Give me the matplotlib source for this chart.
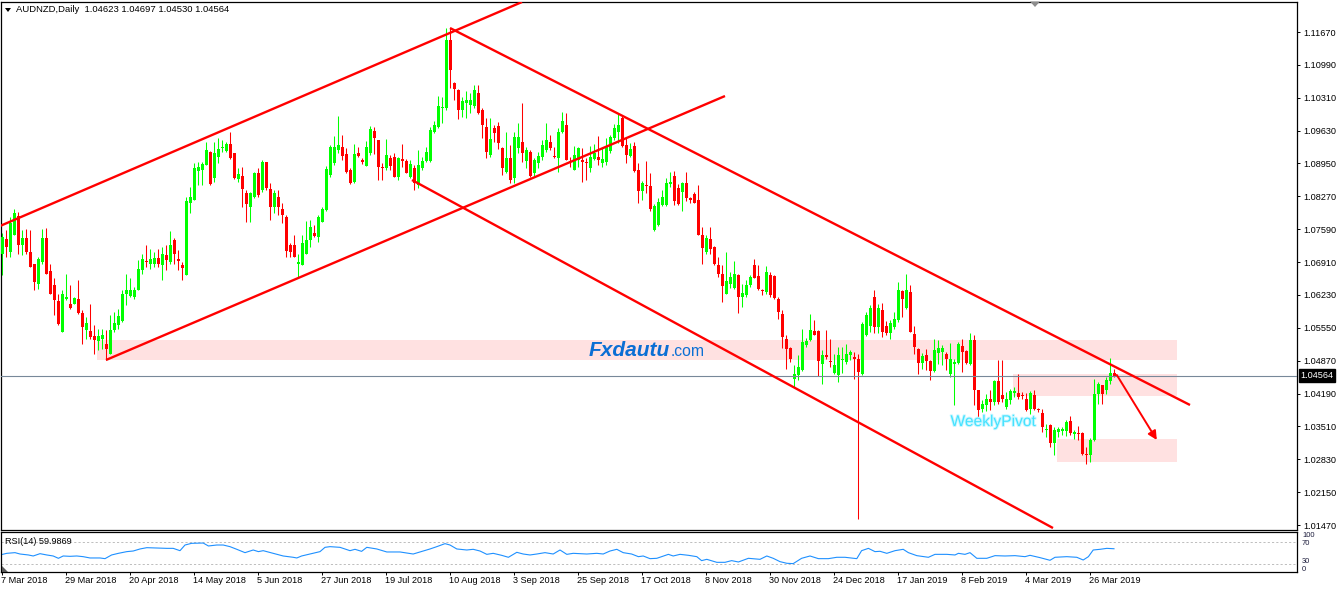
import matplotlib
matplotlib.use("Agg")
import matplotlib.pyplot as plt
import matplotlib.transforms as mtransforms
import matplotlib.patheffects as pe
from matplotlib.patches import Rectangle, Polygon
import numpy as np

plt.rcParams['font.family'] = ['Liberation Sans', 'DejaVu Sans']

symbol = "AUDNZD,Daily"

opens = [
    1.07088, 1.07378, 1.07109, 1.07467, 1.07861, 1.07260, 1.07412, 1.07109, 1.06881, 1.06467,
    1.06916, 1.07412, 1.06729, 1.06432, 1.06101, 1.05467, 1.06143, 1.06053, 1.06053, 1.06143,
    1.05860, 1.05501, 1.05481, 1.05377, 1.05280, 1.05329, 1.05225, 1.05018, 1.05515, 1.05605,
    1.05694, 1.06260, 1.06205, 1.06191, 1.06329, 1.06743, 1.06929, 1.06881, 1.06881, 1.06985,
    1.06847, 1.07054, 1.06916, 1.07364, 1.06971, 1.06847, 1.06640, 1.08123, 1.08192, 1.08799,
    1.08812, 1.08917, 1.09193, 1.08641, 1.09089, 1.09262, 1.09213, 1.09351, 1.09158, 1.08627,
    1.08689, 1.08344, 1.08054, 1.08261, 1.08744, 1.08399, 1.08986, 1.08420, 1.08054, 1.08247,
    1.07999, 1.07847, 1.07260, 1.07260, 1.06881, 1.06847, 1.07088, 1.07364, 1.07502, 1.07433,
    1.07744, 1.07985, 1.08710, 1.08951, 1.09227, 1.09296, 1.09137, 1.08812, 1.08572, 1.09158,
    1.09020, 1.08903, 1.09158, 1.09621, 1.09434, 1.08882, 1.08847, 1.09055, 1.09089, 1.08675,
    1.09034, 1.08999, 1.08675, 1.08847, 1.08503, 1.08847, 1.08999, 1.08999, 1.09607, 1.09696,
    1.10090, 1.10090, 1.11504, 1.10621, 1.10469, 1.10055, 1.10193, 1.10159, 1.10138, 1.10414,
    1.10055, 1.09710, 1.09124, 1.09676, 1.09724, 1.09275, 1.08779, 1.09055, 1.08641, 1.09262,
    1.09400, 1.08999, 1.09193, 1.08744, 1.08951, 1.09089, 1.09227, 1.09400, 1.09103, 1.09055,
    1.09607, 1.09745, 1.08999, 1.08812, 1.09020, 1.09020, 1.08986, 1.08861, 1.09034, 1.09089,
    1.08965, 1.08986, 1.09213, 1.09469, 1.09607, 1.09882, 1.09331, 1.09110, 1.09317, 1.08812,
    1.08385, 1.08503, 1.08482, 1.07571, 1.07675, 1.08089, 1.08089, 1.08516, 1.08695, 1.08433,
    1.08365, 1.08537, 1.08240, 1.08309, 1.08192, 1.07481, 1.07122, 1.07378, 1.07226, 1.06847,
    1.06674, 1.06260, 1.06453, 1.06384, 1.06640, 1.06191, 1.06226, 1.06432, 1.06860, 1.06619,
    1.06329, 1.06295, 1.06640, 1.06619, 1.06157, 1.05846, 1.05315, 1.05135, 1.04500, 1.04569,
    1.04673, 1.05190, 1.05294, 1.05481, 1.05481, 1.04812, 1.04997, 1.04859, 1.04618, 1.04569,
    1.04880, 1.04847, 1.04984, 1.04949, 1.04915, 1.04590, 1.05398, 1.05584, 1.06191, 1.05570,
    1.05929, 1.05584, 1.05436, 1.05570, 1.05708, 1.06315, 1.05970, 1.06295, 1.05418, 1.05122,
    1.04825, 1.04984, 1.04866, 1.04659, 1.05039, 1.05053, 1.05018, 1.04590, 1.04812, 1.04825,
    1.05170, 1.05067, 1.04812, 1.05294, 1.04259, 1.03866, 1.03962, 1.04073, 1.04017, 1.04445,
    1.04157, 1.03912, 1.04066, 1.04211, 1.04204, 1.04169, 1.04087, 1.03866, 1.04157, 1.03880,
    1.03797, 1.03445, 1.03535, 1.03162, 1.03399, 1.03422, 1.03410, 1.03617, 1.03348, 1.03383,
    1.03376, 1.02934, 1.02914, 1.03224, 1.04190, 1.04363, 1.04259, 1.04445, 1.04623,
]

highs = [
    1.07502, 1.07571, 1.07847, 1.08006, 1.07951, 1.07571, 1.07585, 1.07571, 1.06881, 1.07019,
    1.07585, 1.07606, 1.06881, 1.06571, 1.06260, 1.06329, 1.06674, 1.06432, 1.06191, 1.06550,
    1.05915, 1.05777, 1.06053, 1.05605, 1.05536, 1.05536, 1.05501, 1.05812, 1.05881, 1.05950,
    1.06329, 1.06674, 1.06571, 1.06392, 1.06950, 1.07088, 1.07260, 1.07191, 1.07122, 1.07191,
    1.07226, 1.07260, 1.07550, 1.07399, 1.07157, 1.06916, 1.08261, 1.08468, 1.08951, 1.08986,
    1.08986, 1.09400, 1.09207, 1.09400, 1.09469, 1.09434, 1.09400, 1.09607, 1.09158, 1.08847,
    1.08882, 1.08399, 1.08365, 1.08779, 1.08847, 1.09020, 1.08986, 1.08537, 1.08399, 1.08399,
    1.08137, 1.07881, 1.07295, 1.07467, 1.07088, 1.07467, 1.07764, 1.07778, 1.07675, 1.07881,
    1.08054, 1.08896, 1.09331, 1.09517, 1.09931, 1.09538, 1.09262, 1.08847, 1.09344, 1.09296,
    1.09055, 1.09420, 1.09724, 1.09710, 1.09434, 1.08951, 1.09448, 1.09124, 1.09158, 1.09089,
    1.09344, 1.09034, 1.09020, 1.08917, 1.09227, 1.09089, 1.09296, 1.09710, 1.09827, 1.10345,
    1.10331, 1.11746, 1.11746, 1.10642, 1.10483, 1.10331, 1.10455, 1.10400, 1.10573, 1.10573,
    1.10090, 1.09882, 1.09882, 1.09745, 1.09813, 1.09296, 1.09607, 1.09331, 1.09607, 1.09779,
    1.10193, 1.09296, 1.09227, 1.09055, 1.09193, 1.09434, 1.09793, 1.09538, 1.09296, 1.09676,
    1.10021, 1.09986, 1.09089, 1.09310, 1.09296, 1.09262, 1.09055, 1.09310, 1.09351, 1.09517,
    1.09262, 1.09469, 1.09538, 1.09765, 1.09986, 1.09952, 1.09503, 1.09379, 1.09400, 1.08951,
    1.08585, 1.08999, 1.08744, 1.08103, 1.08227, 1.08399, 1.08641, 1.08779, 1.08799, 1.08516,
    1.08572, 1.08765, 1.08261, 1.08351, 1.08503, 1.07640, 1.07467, 1.07640, 1.07247, 1.07019,
    1.06847, 1.07109, 1.06709, 1.06929, 1.06674, 1.06467, 1.06550, 1.06640, 1.06964, 1.06847,
    1.06364, 1.06826, 1.06709, 1.06640, 1.06191, 1.05915, 1.05411, 1.05156, 1.04777, 1.04984,
    1.05536, 1.05342, 1.05846, 1.05708, 1.05501, 1.05087, 1.05501, 1.05329, 1.05018, 1.05156,
    1.05156, 1.05225, 1.05087, 1.05053, 1.05018, 1.05674, 1.05881, 1.06019, 1.06343, 1.06053,
    1.06067, 1.05687, 1.05708, 1.05881, 1.06501, 1.06343, 1.06674, 1.06432, 1.05584, 1.05135,
    1.05032, 1.05122, 1.04880, 1.05329, 1.05294, 1.05190, 1.05053, 1.05239, 1.04915, 1.05257,
    1.05329, 1.05087, 1.05436, 1.05398, 1.04273, 1.04057, 1.04190, 1.04259, 1.04480, 1.04880,
    1.04880, 1.04225, 1.04294, 1.04328, 1.04590, 1.04225, 1.04204, 1.04245, 1.04259, 1.03900,
    1.03880, 1.03555, 1.03555, 1.03502, 1.03502, 1.03502, 1.03652, 1.03721, 1.03445, 1.03514,
    1.03399, 1.03086, 1.03279, 1.04500, 1.04432, 1.04363, 1.04535, 1.04935, 1.04697,
]

lows = [
    1.06640, 1.07019, 1.07019, 1.07467, 1.07088, 1.07054, 1.07088, 1.06812, 1.06329, 1.06364,
    1.06881, 1.06674, 1.06260, 1.05812, 1.05605, 1.05467, 1.06122, 1.05950, 1.06039, 1.05846,
    1.05225, 1.05329, 1.05329, 1.05018, 1.05087, 1.05122, 1.04880, 1.05018, 1.05467, 1.05536,
    1.05674, 1.06019, 1.06191, 1.06157, 1.06329, 1.06674, 1.06812, 1.06777, 1.06812, 1.06812,
    1.06536, 1.06743, 1.06881, 1.06881, 1.06743, 1.06550, 1.06640, 1.07916, 1.08192, 1.08503,
    1.08503, 1.08917, 1.08496, 1.08572, 1.08951, 1.09193, 1.09193, 1.09034, 1.08627, 1.08572,
    1.08054, 1.07744, 1.07744, 1.08227, 1.08261, 1.08365, 1.08399, 1.07778, 1.07916, 1.07881,
    1.07723, 1.07019, 1.07019, 1.07019, 1.06605, 1.06847, 1.07088, 1.07226, 1.07433, 1.07330,
    1.07744, 1.07964, 1.08675, 1.08917, 1.09158, 1.09020, 1.08744, 1.08523, 1.08551, 1.09089,
    1.08937, 1.08903, 1.09124, 1.09144, 1.08606, 1.08606, 1.08812, 1.08812, 1.08675, 1.08606,
    1.08882, 1.08744, 1.08641, 1.08399, 1.08433, 1.08812, 1.08986, 1.08986, 1.09572, 1.09676,
    1.09779, 1.10055, 1.10504, 1.10262, 1.09862, 1.09917, 1.09882, 1.09986, 1.10090, 1.09972,
    1.09469, 1.09055, 1.09089, 1.09400, 1.09248, 1.08710, 1.08744, 1.08551, 1.08537, 1.09158,
    1.08986, 1.08847, 1.08675, 1.08675, 1.08847, 1.09020, 1.09193, 1.09227, 1.09055, 1.08779,
    1.09572, 1.09020, 1.08882, 1.08812, 1.08882, 1.08558, 1.08606, 1.08779, 1.09020, 1.08917,
    1.08882, 1.08917, 1.09158, 1.09434, 1.09365, 1.09296, 1.08951, 1.09089, 1.08779, 1.08137,
    1.08192, 1.08330, 1.07971, 1.07557, 1.07661, 1.08075, 1.08075, 1.08468, 1.08089, 1.08089,
    1.07964, 1.08171, 1.08123, 1.08123, 1.07467, 1.06881, 1.07088, 1.07088, 1.06847, 1.06605,
    1.06087, 1.06260, 1.06384, 1.06364, 1.05860, 1.05984, 1.06191, 1.06392, 1.06571, 1.06343,
    1.06226, 1.06260, 1.06191, 1.06157, 1.05743, 1.05142, 1.04708, 1.04847, 1.04328, 1.04466,
    1.04659, 1.05156, 1.05280, 1.05398, 1.04549, 1.04397, 1.04915, 1.04742, 1.04604, 1.04432,
    1.04618, 1.04812, 1.04880, 1.04500, 1.01603, 1.04569, 1.05377, 1.05467, 1.05436, 1.05436,
    1.05363, 1.05398, 1.05329, 1.05536, 1.05674, 1.05777, 1.05950, 1.05467, 1.05018, 1.04604,
    1.04708, 1.04687, 1.04480, 1.04639, 1.04812, 1.04777, 1.04673, 1.04535, 1.03947, 1.04797,
    1.04639, 1.04812, 1.04777, 1.03947, 1.03707, 1.03811, 1.03831, 1.03845, 1.03947, 1.03983,
    1.04017, 1.03880, 1.03983, 1.04122, 1.04087, 1.04087, 1.03831, 1.03776, 1.03859, 1.03811,
    1.03399, 1.03293, 1.03086, 1.02914, 1.03293, 1.03327, 1.03307, 1.03327, 1.03259, 1.03224,
    1.02914, 1.02727, 1.02775, 1.03210, 1.03983, 1.03983, 1.04176, 1.04397, 1.04530,
]

closes = [
    1.07433, 1.07226, 1.07709, 1.07916, 1.07260, 1.07412, 1.07109, 1.06812, 1.06501, 1.06964,
    1.07412, 1.06674, 1.06260, 1.06122, 1.05639, 1.06246, 1.06191, 1.05970, 1.06170, 1.05860,
    1.05570, 1.05653, 1.05363, 1.05294, 1.05377, 1.05398, 1.05122, 1.05501, 1.05653, 1.05791,
    1.06260, 1.06329, 1.06343, 1.06343, 1.06777, 1.06964, 1.06902, 1.06964, 1.06985, 1.06881,
    1.07088, 1.06950, 1.07274, 1.07088, 1.06936, 1.06791, 1.08171, 1.08261, 1.08847, 1.08882,
    1.08930, 1.09227, 1.08516, 1.09158, 1.09248, 1.09296, 1.09351, 1.09055, 1.08654, 1.08723,
    1.08413, 1.08103, 1.08330, 1.08758, 1.08296, 1.08986, 1.08433, 1.08040, 1.08330, 1.08054,
    1.07881, 1.07144, 1.07122, 1.07019, 1.06916, 1.07295, 1.07364, 1.07640, 1.07447, 1.07833,
    1.08013, 1.08827, 1.09296, 1.09296, 1.09331, 1.09110, 1.08779, 1.08537, 1.09137, 1.09110,
    1.08986, 1.09296, 1.09655, 1.09469, 1.08882, 1.08847, 1.09124, 1.08903, 1.08675, 1.09055,
    1.09006, 1.08744, 1.08937, 1.08537, 1.08917, 1.09006, 1.09193, 1.09642, 1.09745, 1.10138,
    1.10124, 1.11504, 1.10883, 1.10483, 1.10055, 1.10241, 1.10262, 1.10262, 1.10469, 1.09986,
    1.09745, 1.09193, 1.09455, 1.09586, 1.09365, 1.08861, 1.09055, 1.08606, 1.09503, 1.09503,
    1.09158, 1.09227, 1.08695, 1.09020, 1.09103, 1.09331, 1.09434, 1.09262, 1.09075, 1.09600,
    1.09834, 1.09020, 1.08972, 1.09124, 1.09262, 1.08986, 1.08951, 1.09089, 1.09172, 1.09020,
    1.09034, 1.09310, 1.09503, 1.09676, 1.09745, 1.09317, 1.09124, 1.09241, 1.08799, 1.08385,
    1.08551, 1.08482, 1.08006, 1.08075, 1.08144, 1.08261, 1.08537, 1.08572, 1.08171, 1.08103,
    1.08537, 1.08240, 1.08192, 1.08137, 1.07481, 1.07205, 1.07399, 1.07191, 1.06867, 1.06674,
    1.06419, 1.06515, 1.06605, 1.06660, 1.06191, 1.06281, 1.06432, 1.06605, 1.06591, 1.06364,
    1.06308, 1.06709, 1.06226, 1.06170, 1.05881, 1.05363, 1.05122, 1.04915, 1.04590, 1.04742,
    1.05257, 1.05280, 1.05501, 1.05411, 1.04866, 1.04997, 1.04949, 1.04847, 1.04777, 1.04984,
    1.04894, 1.05018, 1.05053, 1.04915, 1.04639, 1.05625, 1.05825, 1.05970, 1.05570, 1.05963,
    1.05467, 1.05453, 1.05653, 1.05743, 1.06329, 1.06157, 1.06329, 1.05467, 1.05156, 1.04832,
    1.04963, 1.04866, 1.04659, 1.05101, 1.05142, 1.05135, 1.04901, 1.04915, 1.04847, 1.05211,
    1.05053, 1.04832, 1.05294, 1.04259, 1.03859, 1.03983, 1.04073, 1.04017, 1.04445, 1.04017,
    1.04087, 1.04087, 1.04245, 1.04245, 1.04122, 1.04142, 1.03845, 1.04204, 1.03880, 1.03845,
    1.03502, 1.03466, 1.03169, 1.03445, 1.03466, 1.03449, 1.03603, 1.03376, 1.03399, 1.03348,
    1.02934, 1.02914, 1.03238, 1.04176, 1.04397, 1.04190, 1.04480, 1.04625, 1.04564,
]

date_labels = ['7 Mar 2018', '29 Mar 2018', '20 Apr 2018', '14 May 2018', '5 Jun 2018',
               '27 Jun 2018', '19 Jul 2018', '10 Aug 2018', '3 Sep 2018', '25 Sep 2018',
               '17 Oct 2018', '8 Nov 2018', '30 Nov 2018', '24 Dec 2018', '17 Jan 2019',
               '8 Feb 2019', '4 Mar 2019', '26 Mar 2019']
date_bars = [0, 16, 32, 48, 64, 80, 96, 112, 128, 144, 160, 176, 192, 208, 224, 240, 256, 272]

price_ticks = [1.11670, 1.10990, 1.10310, 1.09630, 1.08950, 1.08270, 1.07590, 1.06910,
               1.06230, 1.05550, 1.04870, 1.04190, 1.03510, 1.02830, 1.02150, 1.01470]

rsi_bars = [-0.5, 1.2, 3.25, 4.5, 6.6, 7.8, 9.5, 11.2, 12.8, 14.1, 15.3, 17, 18.7, 20.3, 22,
            24.5, 25.75, 27.4, 29.1, 31.2, 32.8, 34.5, 36.2, 41.2, 42.8, 44.5, 45.75, 47.4,
            50.3, 51.6, 53.7, 55.3, 57, 58.7, 60.75, 62.8, 64.1, 65.3, 67.8, 70.3, 72.8, 73.7,
            74.9, 77, 79.5, 80.75, 82, 84.5, 87, 88.25, 89.9, 91.2, 93.7, 96.2, 99.5, 102.8,
            104.5, 107, 108.7, 110.75, 112, 113.7, 116.2, 117.8, 119.5, 121.2, 122.8, 124.9,
            126.6, 128.7, 130.3, 132, 133.7, 135.75, 137.8, 139.5, 141.2, 142.8, 146.2, 148.7,
            150.3, 152, 153.7, 155.3, 157.4, 159.1, 160.3, 162, 163.7, 166.6, 167.8, 169.5,
            171.6, 173.7, 174.9, 176.2, 178.7, 180.75, 182.4, 184.1, 186.6, 189.5, 191.2, 192.8,
            194.5, 196.2, 197.8, 199.9, 202, 204.1, 206.6, 208.7, 210.75, 213.7, 214.9, 216.6,
            218.25, 219.5, 221.2, 223.25, 225.3, 226.6, 228.7, 231.6, 233.25, 236.2, 238.25,
            239.1, 240.75, 242, 243.7, 246.2, 248.25, 250.75, 253.25, 255.75, 257, 259.5, 262,
            263.25, 266.2, 268.7, 270.3, 271.6, 272.8, 274.5, 276.2, 278]
rsi_values = [46.5, 49.4, 50.6, 48.2, 46.5, 44.7, 48.8, 46.5, 44.7, 40.6, 44.7, 44.1, 44.7, 43.5, 41.2,
              41.2, 40.0, 46.5, 49.4, 52.4, 53.5, 57.1, 59.4, 58.2, 58.2, 54.1, 64.1, 67.1,
              67.6, 62.4, 64.1, 64.1, 61.2, 56.5, 50.6, 55.3, 52.4, 54.1, 49.4, 44.7, 42.4, 41.2,
              44.7, 48.2, 52.4, 60.0, 61.2, 60.0, 54.1, 56.5, 52.9, 60.0, 57.1, 51.8, 51.8, 48.2,
              51.8, 57.1, 61.2, 66.5, 64.1, 57.1, 55.3, 56.5, 53.5, 47.6, 49.4, 45.9,
              42.4, 51.2, 48.2, 46.5, 48.2, 50.6, 48.2, 55.3, 47.6, 49.4, 48.2, 49.4,
              48.2, 53.5, 56.5, 50.6, 48.2, 43.5, 44.7, 40.0, 40.6, 47.6, 44.7, 47.6,
              45.9, 43.5, 36.5, 38.8, 33.5, 33.5, 36.5, 34.1, 40.6, 38.8, 44.7, 40.6,
              34.7, 31.8, 31.2, 40.6, 44.7, 40.0, 40.0, 42.4, 42.4, 40.0, 54.1, 58.2,
              52.4, 53.0, 49.4, 54.1, 56.5, 50.6, 45.3, 42.4, 47.6, 47.6, 46.5,
              49.4, 47.6, 50.6, 40.6, 40.6, 45.3, 44.7, 45.3, 43.5, 45.9, 41.8, 37.1,
              42.4, 43.5, 42.4, 37.6, 43.5, 55.3, 56.5, 58.2, 57.5]
rsi_last = 59.9869
rsi_levels = [70, 30]
rsi_scale_labels = ['100', '70', '30', '0']

# drawn objects (bar index, price)
trend_lines = [
    ((-0.5, 1.07657), (130.0, 1.12291)),
    ((26.0, 1.04885), (180.75, 1.10346)),
    ((112.0, 1.11753), (297.0, 1.03954)),
    ((102.5, 1.08608), (262.75, 1.01409)),
]
zones = [  # (bar0, bar1, price_low, price_high)
    (23.75, 293.75, 1.04885, 1.05298),
    (252.75, 293.75, 1.04140, 1.04595),
    (263.75, 293.75, 1.02775, 1.03250),
]
arrow_from = (278.7, 1.04575)
arrow_to = (288.7, 1.03230)

assert len(opens) == len(highs) == len(lows) == len(closes)
assert len(rsi_bars) == len(rsi_values)

W, H = 1342, 589
fig = plt.figure(figsize=(W / 100, H / 100), dpi=100)
fig.patch.set_facecolor('white')


def fx(p):
    return p / W


def fy(p):
    return 1 - p / H


ax = fig.add_axes([fx(1), fy(530), fx(1297) - fx(1), fy(2) - fy(530)])
axr = fig.add_axes([fx(1), fy(572), fx(1297) - fx(1), fy(532) - fy(572)])

O = np.array(opens)
Hh = np.array(highs)
L = np.array(lows)
C = np.array(closes)
x = np.arange(len(C))
up = C >= O
cols = np.where(up, '#00ff00', '#ff0000')

ax.set_xlim(-0.25, 323.75)
ax.set_ylim(1.01368, 1.12291)

for (b0, b1, p0, p1) in zones:
    ax.add_patch(Rectangle((b0, p0), b1 - b0, p1 - p0, facecolor='#ffe1e1',
                           edgecolor='none', zorder=0.5))

ax.vlines(x, L, Hh, colors=cols, linewidth=0.75, zorder=2)
body = np.maximum(np.abs(C - O), 0.00021)
ax.bar(x, body, bottom=np.minimum(O, C), width=0.75, color=cols, linewidth=0, zorder=3)

ax.axhline(C[-1], color='#778899', lw=0.8, zorder=4)

for (a, b) in trend_lines:
    ax.plot([a[0], b[0]], [a[1], b[1]], color='#ff0000', lw=1.7, zorder=5,
            solid_capstyle='butt')

ax.annotate('', xy=arrow_to, xytext=arrow_from,
            arrowprops=dict(arrowstyle='-|>', color='#ff0000', lw=1.4,
                            mutation_scale=13, shrinkA=0, shrinkB=0), zorder=6)

ax.set_xticks([])
ax.yaxis.tick_right()
ax.set_yticks(price_ticks)
ax.set_yticklabels([f"{p:.5f}" for p in price_ticks])
ax.tick_params(axis='y', direction='out', length=2.2, width=0.7, pad=2.4,
               labelsize=6.6, colors='black')
for s in ax.spines.values():
    s.set_color('black')
    s.set_linewidth(0.9)

# current price box
btr = mtransforms.blended_transform_factory(ax.transAxes, ax.transData)
ax.text(1 + 3.5 / 1296, C[-1], f"{C[-1]:.5f}", transform=btr, color='white', fontsize=6.6,
        ha='left', va='center', clip_on=False, zorder=10,
        bbox=dict(boxstyle='square,pad=0.2', facecolor='black', edgecolor='black'))

# RSI panel
axr.set_xlim(-0.25, 323.75)
axr.set_ylim(16.4, 87.1)
for lv in rsi_levels:
    axr.axhline(lv, color='#bdbdbd', lw=0.7, dashes=(2.2, 2.2))
axr.plot(rsi_bars, rsi_values, color='#1e90ff', lw=0.8)
axr.set_yticks([])
axr.set_xticks(date_bars)
axr.set_xticklabels([])
axr.tick_params(axis='x', direction='out', length=2.2, width=0.7, colors='black')
for s in axr.spines.values():
    s.set_color('black')
    s.set_linewidth(0.9)

dtr = mtransforms.blended_transform_factory(axr.transData, fig.transFigure)
for b, lab in zip(date_bars, date_labels):
    fig.text(b - 0.35, fy(580.5), lab, transform=dtr, ha='left', va='center', fontsize=6.6)

fig.text(fx(5), fy(541.5), f"RSI(14) {rsi_last:.4f}", fontsize=6.6, va='center', ha='left')
for lab, ypx in zip(rsi_scale_labels, [535.5, 543.5, 561.5, 569.5]):
    fig.text(fx(1302), fy(ypx), lab, fontsize=5.4, va='center', ha='left', color='#1a1a3a')

# title
fig.text(fx(16.5), fy(9.5),
         f"{symbol}  {opens[-1]:.5f} {highs[-1]:.5f} {lows[-1]:.5f} {closes[-1]:.5f}",
         fontsize=6.8, va='center', ha='left')
fig.add_artist(Polygon([(fx(5), fy(8)), (fx(11), fy(8)), (fx(8), fy(12))],
                       closed=True, transform=fig.transFigure, facecolor='black', edgecolor='none'))
fig.add_artist(Polygon([(fx(1030), fy(1.5)), (fx(1040), fy(1.5)), (fx(1035), fy(7))],
                       closed=True, transform=fig.transFigure, facecolor='#8c8c8c', edgecolor='none'))
fig.add_artist(Polygon([(fx(1.5), fy(566)), (fx(1.5), fy(572)), (fx(7.5), fy(572))],
                       closed=True, transform=fig.transFigure, facecolor='#5a5a5a', edgecolor='none'))

# watermark / labels
fig.text(fx(589), fy(355.5), 'Fxdautu', fontsize=15, fontweight='bold', fontstyle='italic',
         color='#0b6fd4', va='baseline', ha='left')
fig.text(fx(671), fy(355.5), '.com', fontsize=11.3, color='#0b6fd4', va='baseline', ha='left')
fig.text(fx(950.5), fy(426), 'WeeklyPivot', fontsize=11.2, color='#45e2ff', va='baseline',
         ha='left', path_effects=[pe.withStroke(linewidth=1.4, foreground='#c9f7ff')])

fig.savefig('out.png', dpi=100)
